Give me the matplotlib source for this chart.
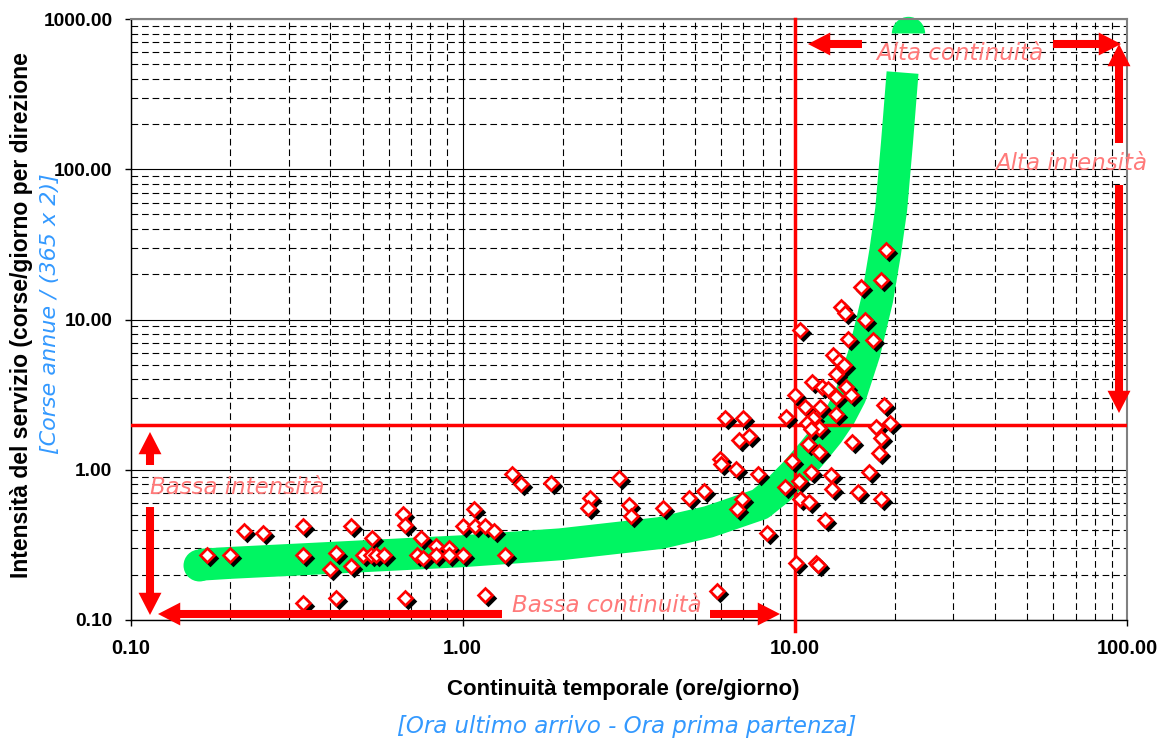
import matplotlib
matplotlib.use("Agg")
import matplotlib.pyplot as plt
from matplotlib import transforms
from matplotlib.font_manager import FontProperties
from matplotlib.ticker import FixedLocator, FixedFormatter, LogLocator, NullFormatter

# ---------------- data ----------------
cont_x = [0.17, 0.20, 0.22, 0.25, 0.33, 0.33, 0.33,
          0.415, 0.40, 0.415, 0.46, 0.46, 0.535, 0.50,
          0.53, 0.55, 0.58, 0.66, 0.67, 0.67, 0.73,
          0.75, 0.76, 0.83, 0.83, 0.91, 0.91, 1.00,
          1.00, 1.08, 1.09, 1.17, 1.24, 1.17, 1.34,
          1.41, 1.50, 1.84, 2.42, 2.38, 2.95, 3.17,
          3.21, 4.00, 4.79, 5.33, 5.96, 6.00, 6.65,
          7.72, 6.95, 6.70, 8.24, 9.34, 10.05, 5.85,
          9.79,
          10.34, 13.8, 14.2, 16.3, 14.5, 17.2, 13.0,
          13.6, 14.1, 13.3, 11.27, 12.08, 12.56, 14.26,
          14.76, 13.3, 9.99, 10.7, 11.94, 18.6, 9.41,
          13.3, 11.31, 10.88, 11.79, 11.21, 17.6, 19.4,
          6.18, 6.98, 6.81, 7.26, 10.93, 11.85, 14.87,
          18.22, 17.88, 11.19, 12.85, 16.7, 10.31,
          12.94, 15.46, 18.18, 10.39, 11.06, 12.3,
          11.58, 11.75,
          18.8, 18.2, 15.83]
intens_y = [0.27, 0.27, 0.39, 0.38, 0.42, 0.27, 0.13,
            0.28, 0.22, 0.14, 0.42, 0.23, 0.35, 0.27,
            0.27, 0.27, 0.27, 0.51, 0.43, 0.14, 0.27,
            0.35, 0.26, 0.31, 0.27, 0.30, 0.27, 0.27,
            0.42, 0.55, 0.42, 0.42, 0.39, 0.147, 0.27,
            0.94, 0.80, 0.82, 0.65, 0.56, 0.88, 0.58,
            0.49, 0.56, 0.65, 0.72, 1.18, 1.10, 1.01,
            0.93, 0.64, 0.55, 0.377, 0.77, 0.239, 0.156,
            1.14,
            8.46, 12.1, 11.0, 9.9, 7.41, 7.26, 5.83,
            5.26, 5.00, 4.36, 3.81, 3.55, 3.44, 3.55,
            3.16, 3.05, 3.16, 2.60, 2.61, 2.71, 2.26,
            2.35, 2.21, 2.06, 1.90, 1.87, 1.94, 2.05,
            2.21, 2.21, 1.58, 1.67, 1.49, 1.32, 1.53,
            1.63, 1.29, 0.96, 0.926, 0.965, 0.836,
            0.747, 0.711, 0.641, 0.641, 0.606, 0.465,
            0.239, 0.233,
            28.8, 18.2, 16.5]

# hand-drawn trend band (green)
trend_x = [0.161, 0.2, 0.4, 1.0, 1.97, 3.93, 5.5, 7.86, 9.0, 10.0, 11.3,
           12.6, 13.7, 14.7, 16.2, 17.7, 18.7, 19.5, 20.3, 21.1]
trend_y = [0.233, 0.24, 0.259, 0.287, 0.319, 0.379, 0.45, 0.59, 0.75, 0.95, 1.3,
           1.75, 2.3, 3.1, 6.0, 13.6, 28.0, 54.0, 150.0, 440.0]
trend_cap_x = 21.9
trend_cap_y = 811.0

threshold_x = 10
threshold_y = 2

x_ticks = [0.1, 1, 10, 100]
x_tick_labels = ["0.10", "1.00", "10.00", "100.00"]
y_ticks = [0.1, 1, 10, 100, 1000]
y_tick_labels = ["0.10", "1.00", "10.00", "100.00", "1000.00"]

x_label = "Continuità temporale (ore/giorno)"
x_label2 = "[Ora ultimo arrivo - Ora prima partenza]"
y_label = "Intensità del servizio (corse/giorno per direzione"
y_label2 = "[Corse annue / (365 x 2)]"
lbl_alta_cont = "Alta continuità"
lbl_alta_int = "Alta intensità"
lbl_bassa_int = "Bassa intensità"
lbl_bassa_cont = "Bassa continuità"

# ---------------- styling ----------------
W, H = 1164, 744
GREEN = "#00F562"
RED = "#FF0000"
PINK = "#FF7A7A"
BLUE = "#3399FF"
BOLD = dict(family=["Liberation Sans", "DejaVu Sans"], weight="bold")
COMIC = dict(family=["DejaVu Sans"], style="oblique")

fig = plt.figure(figsize=(W / 100, H / 100), dpi=100)
fig.patch.set_facecolor("white")
L, R, T, B = 130.5, 1127, 19, 620
ax = fig.add_axes([L / W, 1 - B / H, (R - L) / W, (B - T) / H])
ax.set_xscale("log")
ax.set_yscale("log")
ax.set_xlim(0.1, 100)
ax.set_ylim(0.1, 1000)

ax.xaxis.set_major_locator(FixedLocator(x_ticks))
ax.xaxis.set_major_formatter(FixedFormatter(x_tick_labels))
ax.yaxis.set_major_locator(FixedLocator(y_ticks))
ax.yaxis.set_major_formatter(FixedFormatter(y_tick_labels))
ax.xaxis.set_minor_locator(LogLocator(base=10, subs=range(2, 10), numticks=20))
ax.yaxis.set_minor_locator(LogLocator(base=10, subs=range(2, 10), numticks=20))
ax.xaxis.set_minor_formatter(NullFormatter())
ax.yaxis.set_minor_formatter(NullFormatter())

ax.tick_params(which="major", direction="out", length=4, width=1, color="black")
ax.tick_params(which="minor", length=0)
ax.tick_params(axis="y", which="major", pad=9)
ax.tick_params(axis="x", which="major", pad=10)
for lab in ax.get_xticklabels():
    lab.set_fontproperties(FontProperties(**BOLD, size=14.5))
for lab in ax.get_yticklabels():
    lab.set_fontproperties(FontProperties(**BOLD, size=13.8))

ax.grid(which="major", color="black", lw=0.8, ls="-")
ax.grid(which="minor", color="black", lw=0.8, ls=(0, (6, 3.5)))
ax.set_axisbelow(True)

for side in ("left", "bottom"):
    ax.spines[side].set_color("black")
    ax.spines[side].set_linewidth(1.0)
for side in ("right", "top"):
    ax.spines[side].set_color("#808080")
    ax.spines[side].set_linewidth(1.5)

# green trend band
ax.plot(trend_x, trend_y, color=GREEN, lw=23, solid_capstyle="butt",
        solid_joinstyle="round", zorder=2)
ax.plot([trend_x[0]], [trend_y[0]], marker="o", ms=23, color=GREEN,
        mec="none", zorder=2)
ax.plot([trend_cap_x], [trend_cap_y], marker="o", ms=24, fillstyle="top",
        markerfacecolor=GREEN, markerfacecoloralt="none", mec="none",
        clip_on=False, zorder=2)

# threshold lines
ax.axvline(threshold_x, ymin=-0.018, ymax=1, color=RED, lw=2.5, zorder=3, clip_on=False)
ax.axhline(threshold_y, color=RED, lw=2.5, zorder=3)

# scatter with shadow
shadow = transforms.offset_copy(ax.transData, fig=fig, x=3, y=-3, units="dots")
ax.plot(cont_x, intens_y, ls="none", marker="D", ms=7.6, mfc="black", mec="black",
        mew=1.8, transform=shadow, zorder=4)
ax.plot(cont_x, intens_y, ls="none", marker="D", ms=7.6, mfc="white", mec=RED,
        mew=1.9, zorder=5)

# arrows (figure pixel positions, top-left origin)
def arrow(x0, y0, x1, y1):
    ax.annotate("", xy=(x1, H - y1), xytext=(x0, H - y0),
                xycoords="figure pixels", textcoords="figure pixels",
                arrowprops=dict(arrowstyle="simple,head_length=1.6,head_width=1.65,tail_width=0.58",
                                fc=RED, ec="none", mutation_scale=10,
                                shrinkA=0, shrinkB=0),
                annotation_clip=False, zorder=6)

arrow(862, 44, 808, 44)
arrow(1053, 44, 1121, 44)
arrow(1119, 143, 1119, 44)
arrow(1119, 185, 1119, 413)
arrow(150, 465, 150, 432)
arrow(150, 507, 150, 615)
arrow(502, 614, 158, 614)
arrow(710, 614, 780, 614)

def ftext(x, y, s, **kw):
    fig.text(x / W, 1 - y / H, s, ha="center", va="center", **kw)

ftext(960, 53, lbl_alta_cont, color=PINK, fontsize=16.5, **COMIC)
ftext(1071, 164, lbl_alta_int, color=PINK, fontsize=16.5, **COMIC)
ftext(237, 487, lbl_bassa_int, color=PINK, fontsize=16.5, **COMIC)
ftext(607, 605, lbl_bassa_cont, color=PINK, fontsize=16.5, **COMIC)

ftext(623, 689, x_label, fontsize=16, **BOLD)
ftext(627, 726, x_label2, color=BLUE, fontsize=16.5, **COMIC)
ftext(22, 315, y_label, fontsize=16.5, rotation=90, **BOLD)
ftext(50, 314, y_label2, color=BLUE, fontsize=16, rotation=90, **COMIC)

fig.savefig("out.png", dpi=100)
